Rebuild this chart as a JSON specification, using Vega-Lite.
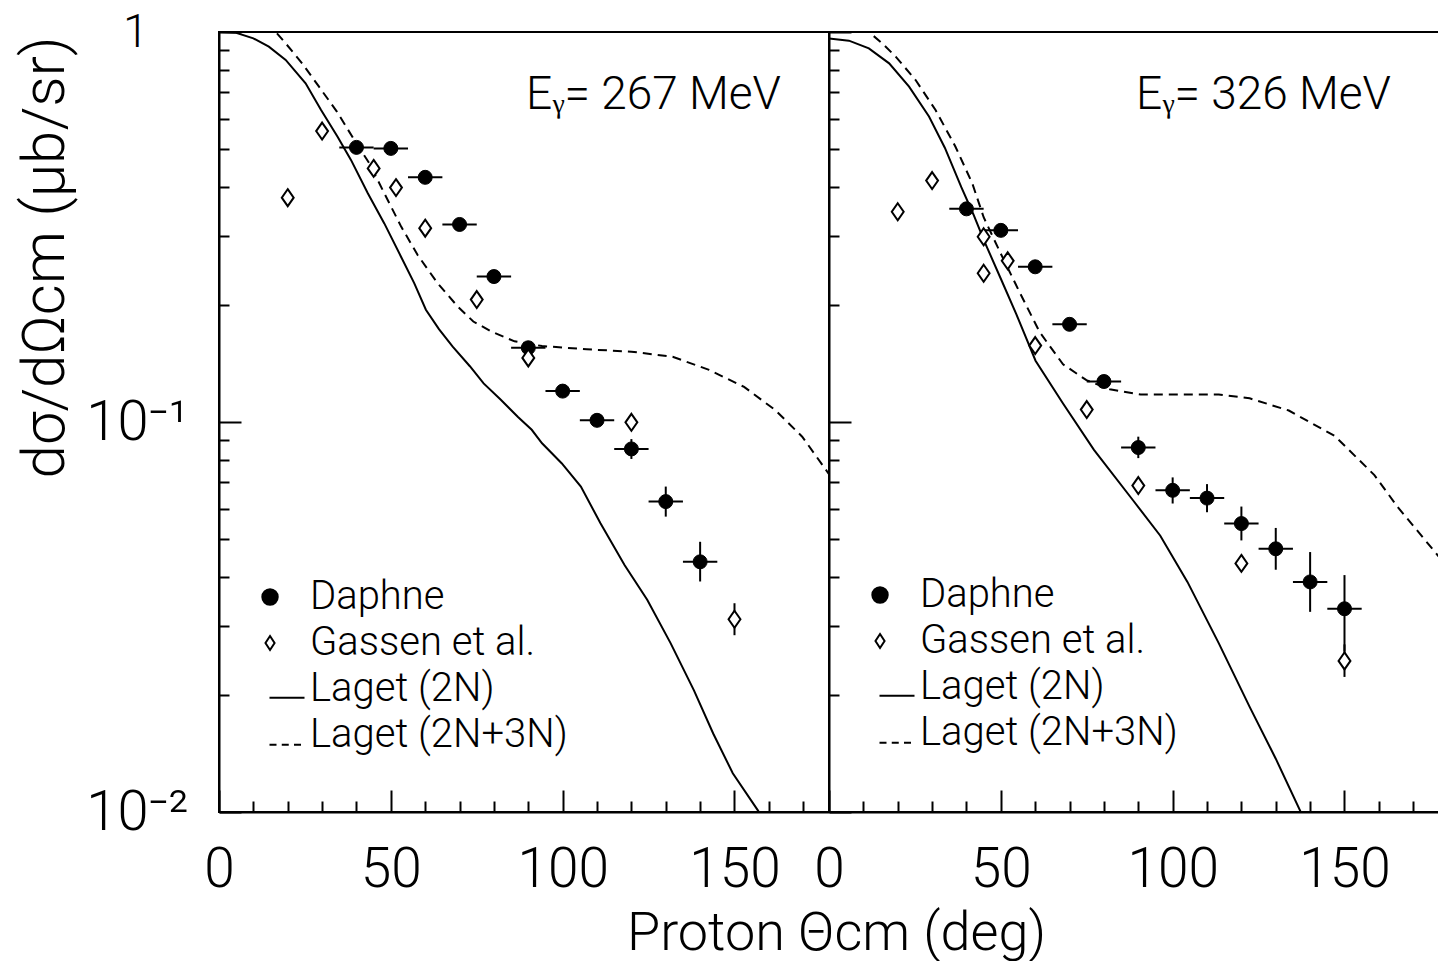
{
  "$schema": "https://vega.github.io/schema/vega-lite/v6.json",
  "background": "white",
  "padding": {"left": 13, "top": 8, "right": 0, "bottom": 0},
  "spacing": 0,
  "bounds": "flush",
  "config": {
    "font": "Roboto",
    "view": {"stroke": "black", "strokeWidth": 2},
    "axis": {"grid": false, "domainColor": "black", "domainWidth": 2, "tickColor": "black", "tickWidth": 2, "labelColor": "black", "titleColor": "black", "labelFont": "Roboto", "titleFont": "Roboto", "labelFontWeight": 300, "titleFontWeight": 300, "labelFlush": false, "labelOverlap": false, "tickCount": 100},
    "legend": {"labelFont": "Roboto", "labelFontWeight": 300, "labelColor": "black"}
  },
  "resolve": {"scale": {"shape": "independent", "fill": "independent", "stroke": "independent"}},
  "datasets": {
    "points": [
      {"panel": "L", "series": "Daphne", "theta": 40, "value": 0.506, "xlo": 35, "xhi": 45},
      {"panel": "L", "series": "Daphne", "theta": 50, "value": 0.503, "xlo": 45, "xhi": 55},
      {"panel": "L", "series": "Daphne", "theta": 60, "value": 0.424, "xlo": 55, "xhi": 65},
      {"panel": "L", "series": "Daphne", "theta": 70, "value": 0.321, "xlo": 65, "xhi": 75},
      {"panel": "L", "series": "Daphne", "theta": 80, "value": 0.236, "xlo": 75, "xhi": 85},
      {"panel": "L", "series": "Daphne", "theta": 90, "value": 0.155, "xlo": 85, "xhi": 95},
      {"panel": "L", "series": "Daphne", "theta": 100, "value": 0.120, "xlo": 95, "xhi": 105},
      {"panel": "L", "series": "Daphne", "theta": 110, "value": 0.101, "xlo": 105, "xhi": 115},
      {"panel": "L", "series": "Daphne", "theta": 120, "value": 0.0853, "xlo": 115, "xhi": 125, "ylo": 0.0804, "yhi": 0.0904},
      {"panel": "L", "series": "Daphne", "theta": 130, "value": 0.0625, "xlo": 125, "xhi": 135, "ylo": 0.0572, "yhi": 0.0683},
      {"panel": "L", "series": "Daphne", "theta": 140, "value": 0.0438, "xlo": 135, "xhi": 145, "ylo": 0.0390, "yhi": 0.0493},
      {"panel": "L", "series": "Gassen et al.", "theta": 20, "value": 0.376},
      {"panel": "L", "series": "Gassen et al.", "theta": 30, "value": 0.557},
      {"panel": "L", "series": "Gassen et al.", "theta": 45, "value": 0.447},
      {"panel": "L", "series": "Gassen et al.", "theta": 51.5, "value": 0.399},
      {"panel": "L", "series": "Gassen et al.", "theta": 60, "value": 0.314},
      {"panel": "L", "series": "Gassen et al.", "theta": 75, "value": 0.206},
      {"panel": "L", "series": "Gassen et al.", "theta": 90, "value": 0.146},
      {"panel": "L", "series": "Gassen et al.", "theta": 120, "value": 0.0998},
      {"panel": "L", "series": "Gassen et al.", "theta": 150, "value": 0.0312, "ylo": 0.0284, "yhi": 0.0343},
      {"panel": "R", "series": "Daphne", "theta": 40, "value": 0.352, "xlo": 35, "xhi": 45},
      {"panel": "R", "series": "Daphne", "theta": 50, "value": 0.310, "xlo": 45, "xhi": 55},
      {"panel": "R", "series": "Daphne", "theta": 60, "value": 0.250, "xlo": 55, "xhi": 65},
      {"panel": "R", "series": "Daphne", "theta": 70, "value": 0.178, "xlo": 65, "xhi": 75},
      {"panel": "R", "series": "Daphne", "theta": 80, "value": 0.127, "xlo": 75, "xhi": 85},
      {"panel": "R", "series": "Daphne", "theta": 90, "value": 0.0860, "xlo": 85, "xhi": 95, "ylo": 0.0808, "yhi": 0.0917},
      {"panel": "R", "series": "Daphne", "theta": 100, "value": 0.0668, "xlo": 95, "xhi": 105, "ylo": 0.0618, "yhi": 0.0721},
      {"panel": "R", "series": "Daphne", "theta": 110, "value": 0.0638, "xlo": 105, "xhi": 115, "ylo": 0.0587, "yhi": 0.0693},
      {"panel": "R", "series": "Daphne", "theta": 120, "value": 0.0549, "xlo": 115, "xhi": 125, "ylo": 0.0497, "yhi": 0.0607},
      {"panel": "R", "series": "Daphne", "theta": 130, "value": 0.0473, "xlo": 125, "xhi": 135, "ylo": 0.0418, "yhi": 0.0535},
      {"panel": "R", "series": "Daphne", "theta": 140, "value": 0.0389, "xlo": 135, "xhi": 145, "ylo": 0.0326, "yhi": 0.0464},
      {"panel": "R", "series": "Daphne", "theta": 150, "value": 0.0332, "xlo": 145, "xhi": 155, "ylo": 0.0258, "yhi": 0.0405},
      {"panel": "R", "series": "Gassen et al.", "theta": 20, "value": 0.346},
      {"panel": "R", "series": "Gassen et al.", "theta": 30, "value": 0.416},
      {"panel": "R", "series": "Gassen et al.", "theta": 45, "value": 0.2985},
      {"panel": "R", "series": "Gassen et al.", "theta": 45, "value": 0.2407},
      {"panel": "R", "series": "Gassen et al.", "theta": 52, "value": 0.259},
      {"panel": "R", "series": "Gassen et al.", "theta": 60, "value": 0.157},
      {"panel": "R", "series": "Gassen et al.", "theta": 75, "value": 0.1076},
      {"panel": "R", "series": "Gassen et al.", "theta": 90, "value": 0.0687},
      {"panel": "R", "series": "Gassen et al.", "theta": 120, "value": 0.0434},
      {"panel": "R", "series": "Gassen et al.", "theta": 150, "value": 0.0244, "ylo": 0.0222, "yhi": 0.0269}
    ],
    "curves": [
      {"panel": "L", "series": "Laget (2N)", "theta": 0, "value": 1.0},
      {"panel": "L", "series": "Laget (2N)", "theta": 5, "value": 0.995},
      {"panel": "L", "series": "Laget (2N)", "theta": 10, "value": 0.963},
      {"panel": "L", "series": "Laget (2N)", "theta": 14.5, "value": 0.917},
      {"panel": "L", "series": "Laget (2N)", "theta": 19.4, "value": 0.848},
      {"panel": "L", "series": "Laget (2N)", "theta": 25.2, "value": 0.739},
      {"panel": "L", "series": "Laget (2N)", "theta": 29.7, "value": 0.631},
      {"panel": "L", "series": "Laget (2N)", "theta": 34.5, "value": 0.539},
      {"panel": "L", "series": "Laget (2N)", "theta": 38.4, "value": 0.47},
      {"panel": "L", "series": "Laget (2N)", "theta": 43.3, "value": 0.386},
      {"panel": "L", "series": "Laget (2N)", "theta": 48.1, "value": 0.323},
      {"panel": "L", "series": "Laget (2N)", "theta": 53, "value": 0.265},
      {"panel": "L", "series": "Laget (2N)", "theta": 56.8, "value": 0.227},
      {"panel": "L", "series": "Laget (2N)", "theta": 60.2, "value": 0.194},
      {"panel": "L", "series": "Laget (2N)", "theta": 64, "value": 0.173},
      {"panel": "L", "series": "Laget (2N)", "theta": 68, "value": 0.156},
      {"panel": "L", "series": "Laget (2N)", "theta": 73, "value": 0.139},
      {"panel": "L", "series": "Laget (2N)", "theta": 77, "value": 0.1256},
      {"panel": "L", "series": "Laget (2N)", "theta": 82, "value": 0.114},
      {"panel": "L", "series": "Laget (2N)", "theta": 87, "value": 0.103},
      {"panel": "L", "series": "Laget (2N)", "theta": 91, "value": 0.0955},
      {"panel": "L", "series": "Laget (2N)", "theta": 94, "value": 0.0882},
      {"panel": "L", "series": "Laget (2N)", "theta": 99.7, "value": 0.0784},
      {"panel": "L", "series": "Laget (2N)", "theta": 105.3, "value": 0.0683},
      {"panel": "L", "series": "Laget (2N)", "theta": 111, "value": 0.055},
      {"panel": "L", "series": "Laget (2N)", "theta": 118, "value": 0.043},
      {"panel": "L", "series": "Laget (2N)", "theta": 124.6, "value": 0.035},
      {"panel": "L", "series": "Laget (2N)", "theta": 131.4, "value": 0.0271},
      {"panel": "L", "series": "Laget (2N)", "theta": 138.2, "value": 0.0205},
      {"panel": "L", "series": "Laget (2N)", "theta": 143.8, "value": 0.0159},
      {"panel": "L", "series": "Laget (2N)", "theta": 149.5, "value": 0.01257},
      {"panel": "L", "series": "Laget (2N)", "theta": 156.8, "value": 0.0101},
      {"panel": "L", "series": "Laget (2N)", "theta": 158, "value": 0.0097},
      {"panel": "L", "series": "Laget (2N+3N)", "theta": 14, "value": 1.06},
      {"panel": "L", "series": "Laget (2N+3N)", "theta": 16.5, "value": 1.0},
      {"panel": "L", "series": "Laget (2N+3N)", "theta": 19.4, "value": 0.935},
      {"panel": "L", "series": "Laget (2N+3N)", "theta": 24.2, "value": 0.831},
      {"panel": "L", "series": "Laget (2N+3N)", "theta": 29.1, "value": 0.724},
      {"panel": "L", "series": "Laget (2N+3N)", "theta": 34.3, "value": 0.625},
      {"panel": "L", "series": "Laget (2N+3N)", "theta": 39.4, "value": 0.528},
      {"panel": "L", "series": "Laget (2N+3N)", "theta": 43.7, "value": 0.461},
      {"panel": "L", "series": "Laget (2N+3N)", "theta": 48.1, "value": 0.386},
      {"panel": "L", "series": "Laget (2N+3N)", "theta": 53, "value": 0.317},
      {"panel": "L", "series": "Laget (2N+3N)", "theta": 57.8, "value": 0.268},
      {"panel": "L", "series": "Laget (2N+3N)", "theta": 63.6, "value": 0.227},
      {"panel": "L", "series": "Laget (2N+3N)", "theta": 69.4, "value": 0.198},
      {"panel": "L", "series": "Laget (2N+3N)", "theta": 74, "value": 0.181},
      {"panel": "L", "series": "Laget (2N+3N)", "theta": 79.3, "value": 0.1705},
      {"panel": "L", "series": "Laget (2N+3N)", "theta": 86, "value": 0.161},
      {"panel": "L", "series": "Laget (2N+3N)", "theta": 94, "value": 0.1566},
      {"panel": "L", "series": "Laget (2N+3N)", "theta": 107, "value": 0.1536},
      {"panel": "L", "series": "Laget (2N+3N)", "theta": 120, "value": 0.1515},
      {"panel": "L", "series": "Laget (2N+3N)", "theta": 132, "value": 0.147},
      {"panel": "L", "series": "Laget (2N+3N)", "theta": 142.6, "value": 0.136},
      {"panel": "L", "series": "Laget (2N+3N)", "theta": 152.8, "value": 0.123},
      {"panel": "L", "series": "Laget (2N+3N)", "theta": 161.8, "value": 0.1074},
      {"panel": "L", "series": "Laget (2N+3N)", "theta": 169.7, "value": 0.0917},
      {"panel": "L", "series": "Laget (2N+3N)", "theta": 177.5, "value": 0.0735},
      {"panel": "R", "series": "Laget (2N)", "theta": 0, "value": 0.963},
      {"panel": "R", "series": "Laget (2N)", "theta": 5.8, "value": 0.95},
      {"panel": "R", "series": "Laget (2N)", "theta": 11.6, "value": 0.908},
      {"panel": "R", "series": "Laget (2N)", "theta": 17.5, "value": 0.831},
      {"panel": "R", "series": "Laget (2N)", "theta": 23.3, "value": 0.724},
      {"panel": "R", "series": "Laget (2N)", "theta": 29.1, "value": 0.607},
      {"panel": "R", "series": "Laget (2N)", "theta": 33.7, "value": 0.505},
      {"panel": "R", "series": "Laget (2N)", "theta": 38.5, "value": 0.40},
      {"panel": "R", "series": "Laget (2N)", "theta": 42, "value": 0.341},
      {"panel": "R", "series": "Laget (2N)", "theta": 45.4, "value": 0.288},
      {"panel": "R", "series": "Laget (2N)", "theta": 50, "value": 0.233},
      {"panel": "R", "series": "Laget (2N)", "theta": 54.5, "value": 0.189},
      {"panel": "R", "series": "Laget (2N)", "theta": 60.1, "value": 0.1436},
      {"panel": "R", "series": "Laget (2N)", "theta": 68.1, "value": 0.1115},
      {"panel": "R", "series": "Laget (2N)", "theta": 77.1, "value": 0.0848},
      {"panel": "R", "series": "Laget (2N)", "theta": 88.4, "value": 0.0631},
      {"panel": "R", "series": "Laget (2N)", "theta": 96.4, "value": 0.0511},
      {"panel": "R", "series": "Laget (2N)", "theta": 104.3, "value": 0.0389},
      {"panel": "R", "series": "Laget (2N)", "theta": 113.4, "value": 0.0271},
      {"panel": "R", "series": "Laget (2N)", "theta": 122.4, "value": 0.0186},
      {"panel": "R", "series": "Laget (2N)", "theta": 130, "value": 0.0137},
      {"panel": "R", "series": "Laget (2N)", "theta": 137.5, "value": 0.0099},
      {"panel": "R", "series": "Laget (2N+3N)", "theta": 10, "value": 1.04},
      {"panel": "R", "series": "Laget (2N+3N)", "theta": 11.6, "value": 1.0},
      {"panel": "R", "series": "Laget (2N+3N)", "theta": 15.5, "value": 0.935},
      {"panel": "R", "series": "Laget (2N+3N)", "theta": 19.4, "value": 0.865},
      {"panel": "R", "series": "Laget (2N+3N)", "theta": 25.2, "value": 0.753},
      {"panel": "R", "series": "Laget (2N+3N)", "theta": 31, "value": 0.631},
      {"panel": "R", "series": "Laget (2N+3N)", "theta": 36.8, "value": 0.508},
      {"panel": "R", "series": "Laget (2N+3N)", "theta": 41.7, "value": 0.409},
      {"panel": "R", "series": "Laget (2N+3N)", "theta": 45, "value": 0.335},
      {"panel": "R", "series": "Laget (2N+3N)", "theta": 50, "value": 0.270},
      {"panel": "R", "series": "Laget (2N+3N)", "theta": 55.6, "value": 0.214},
      {"panel": "R", "series": "Laget (2N+3N)", "theta": 61.3, "value": 0.170},
      {"panel": "R", "series": "Laget (2N+3N)", "theta": 68.1, "value": 0.1406},
      {"panel": "R", "series": "Laget (2N+3N)", "theta": 74.9, "value": 0.128},
      {"panel": "R", "series": "Laget (2N+3N)", "theta": 81.7, "value": 0.1213},
      {"panel": "R", "series": "Laget (2N+3N)", "theta": 90.7, "value": 0.1176},
      {"panel": "R", "series": "Laget (2N+3N)", "theta": 102, "value": 0.1176},
      {"panel": "R", "series": "Laget (2N+3N)", "theta": 113.4, "value": 0.1176},
      {"panel": "R", "series": "Laget (2N+3N)", "theta": 122.4, "value": 0.115},
      {"panel": "R", "series": "Laget (2N+3N)", "theta": 133.8, "value": 0.107},
      {"panel": "R", "series": "Laget (2N+3N)", "theta": 147.1, "value": 0.0922},
      {"panel": "R", "series": "Laget (2N+3N)", "theta": 158.7, "value": 0.0731},
      {"panel": "R", "series": "Laget (2N+3N)", "theta": 165.5, "value": 0.0605},
      {"panel": "R", "series": "Laget (2N+3N)", "theta": 177.5, "value": 0.0451}
    ],
    "labels": [
      {"panel": "L", "theta": 163.5, "value": 0.689, "text": "Eᵧ= 267 MeV"},
      {"panel": "R", "theta": 163.5, "value": 0.689, "text": "Eᵧ= 326 MeV"}
    ]
  },
  "hconcat": [
    {
      "width": 610,
      "height": 780,
      "layer": [
        {
          "data": {"name": "curves"},
          "transform": [{"filter": "datum.panel == 'L' && datum.series == 'Laget (2N)'"}],
          "mark": {"type": "line", "color": "black", "strokeWidth": 2, "clip": true},
          "encoding": {
            "x": {"field": "theta", "type": "quantitative", "scale": {"domain": [0, 177.5], "nice": false, "zero": false},
              "axis": {"values": [0,10,20,30,40,50,60,70,80,90,100,110,120,130,140,150,160,170], "tickCount": 100,
                "labelExpr": "datum.value % 50 == 0 ? datum.label : ''",
                "tickSize": {"condition": {"test": "datum.value % 50 == 0", "value": -22}, "value": -11},
                "labelPadding": 53, "labelFontSize": 55, "labelBaseline": "top", "labelAlign": "center",
                "title": "Proton Θcm (deg)", "titleFontSize": 54, "titleX": 617, "titleY": 121,
                "titleAlign": "center", "titleBaseline": "middle", "titleAngle": 0}},
            "y": {"field": "value", "type": "quantitative", "scale": {"type": "log", "domain": [0.01, 1], "nice": false},
              "axis": {"values": [0.01,0.02,0.03,0.04,0.05,0.06,0.07,0.08,0.09,0.1,0.2,0.3,0.4,0.5,0.6,0.7,0.8,0.9,1], "tickCount": 100,
                "labelExpr": "datum.value == 1 ? '1' : datum.value == 0.1 ? '10⁻¹' : datum.value == 0.01 ? '10⁻²' : ''",
                "tickSize": {"condition": {"test": "datum.value == 1 || datum.value == 0.1 || datum.value == 0.01", "value": -22}, "value": -10},
                "labelPadding": {"condition": {"test": "datum.value == 1", "value": 93}, "value": 53},
                "labelFontSize": {"condition": {"test": "datum.value == 1", "value": 46}, "value": 56},
                "labelAlign": "right", "labelBaseline": "middle",
                "title": "dσ/dΩcm (μb/sr)", "titleFontSize": 60, "titleX": -174, "titleY": 225,
                "titleAngle": -90, "titleAlign": "center", "titleBaseline": "middle"}}
          }
        },
        {
          "data": {"name": "curves"},
          "transform": [{"filter": "datum.panel == 'L' && datum.series == 'Laget (2N+3N)'"}],
          "mark": {"type": "line", "color": "black", "strokeWidth": 2, "strokeDash": [9, 6], "clip": true},
          "encoding": {
            "x": {"field": "theta", "type": "quantitative"},
            "y": {"field": "value", "type": "quantitative"}
          }
        },
        {
          "data": {"name": "points"},
          "transform": [{"filter": "datum.panel == 'L' && datum.xlo != null"}],
          "mark": {"type": "rule", "color": "black", "strokeWidth": 2},
          "encoding": {
            "x": {"field": "xlo", "type": "quantitative"},
            "x2": {"field": "xhi"},
            "y": {"field": "value", "type": "quantitative"}
          }
        },
        {
          "data": {"name": "points"},
          "transform": [{"filter": "datum.panel == 'L' && datum.ylo != null"}],
          "mark": {"type": "rule", "color": "black", "strokeWidth": 2},
          "encoding": {
            "x": {"field": "theta", "type": "quantitative"},
            "y": {"field": "ylo", "type": "quantitative"},
            "y2": {"field": "yhi"}
          }
        },
        {
          "data": {"name": "points"},
          "transform": [{"filter": "datum.panel == 'L' && datum.series == 'Daphne'"}],
          "mark": {"type": "point", "shape": "circle", "filled": true, "fill": "black", "stroke": "black", "strokeWidth": 1, "size": 196, "opacity": 1},
          "encoding": {
            "x": {"field": "theta", "type": "quantitative"},
            "y": {"field": "value", "type": "quantitative"}
          }
        },
        {
          "data": {"name": "points"},
          "transform": [{"filter": "datum.panel == 'L' && datum.series == 'Gassen et al.'"}],
          "mark": {"type": "point", "shape": "M0,-1L0.7,0L0,1L-0.7,0Z", "filled": true, "fill": "white", "stroke": "black", "strokeWidth": 2, "size": 289, "opacity": 1},
          "encoding": {
            "x": {"field": "theta", "type": "quantitative"},
            "y": {"field": "value", "type": "quantitative"}
          }
        },
        {
          "data": {"name": "points"},
          "transform": [{"filter": "datum.panel == 'L'"}],
          "mark": {"type": "point", "filled": true, "opacity": 0, "strokeWidth": 2},
          "encoding": {
            "x": {"field": "theta", "type": "quantitative"},
            "y": {"field": "value", "type": "quantitative"},
            "shape": {"field": "series", "type": "nominal",
              "scale": {"domain": ["Daphne", "Gassen et al.", "Laget (2N)", "Laget (2N+3N)"],
                "range": ["M-1.41,0A0.44,0.44,0,1,1,-0.53,0A0.44,0.44,0,1,1,-1.41,0Z", "M-0.97,-0.4L-0.71,0L-0.97,0.4L-1.23,0Z", "M-1,0.5H1", "M-1,0.55H-0.6M-0.3,0.55H0.1M0.4,0.55H0.8"]},
              "legend": {"orient": "none", "legendX": 48, "legendY": 545, "title": null, "symbolSize": 1225, "symbolStrokeWidth": 2, "symbolOpacity": 1, "labelFontSize": 40, "labelOffset": 3, "rowPadding": 6, "padding": 0, "labelLimit": 500}},
            "fill": {"field": "series", "type": "nominal",
              "scale": {"domain": ["Daphne", "Gassen et al.", "Laget (2N)", "Laget (2N+3N)"], "range": ["black", "white", "transparent", "transparent"]},
              "legend": {"orient": "none", "legendX": 48, "legendY": 545, "title": null, "symbolSize": 1225, "symbolStrokeWidth": 2, "symbolOpacity": 1, "labelFontSize": 40, "labelOffset": 3, "rowPadding": 6, "padding": 0, "labelLimit": 500}},
            "stroke": {"field": "series", "type": "nominal",
              "scale": {"domain": ["Daphne", "Gassen et al.", "Laget (2N)", "Laget (2N+3N)"], "range": ["black", "black", "black", "black"]},
              "legend": {"orient": "none", "legendX": 48, "legendY": 545, "title": null, "symbolSize": 1225, "symbolStrokeWidth": 2, "symbolOpacity": 1, "labelFontSize": 40, "labelOffset": 3, "rowPadding": 6, "padding": 0, "labelLimit": 500}}
          }
        },
        {
          "data": {"name": "labels"},
          "transform": [{"filter": "datum.panel == 'L'"}],
          "mark": {"type": "text", "align": "right", "baseline": "middle", "fontSize": 46, "fontWeight": 300, "color": "black"},
          "encoding": {
            "x": {"field": "theta", "type": "quantitative"},
            "y": {"field": "value", "type": "quantitative"},
            "text": {"field": "text"}
          }
        }
      ]
    },
    {
      "width": 610,
      "height": 780,
      "layer": [
        {
          "data": {"name": "curves"},
          "transform": [{"filter": "datum.panel == 'R' && datum.series == 'Laget (2N)'"}],
          "mark": {"type": "line", "color": "black", "strokeWidth": 2, "clip": true},
          "encoding": {
            "x": {"field": "theta", "type": "quantitative", "scale": {"domain": [0, 177.5], "nice": false, "zero": false},
              "axis": {"values": [0,10,20,30,40,50,60,70,80,90,100,110,120,130,140,150,160,170], "tickCount": 100,
                "labelExpr": "datum.value % 50 == 0 ? datum.label : ''",
                "tickSize": {"condition": {"test": "datum.value % 50 == 0", "value": -22}, "value": -11},
                "labelPadding": 53, "labelFontSize": 55, "labelBaseline": "top", "labelAlign": "center",
                "title": null}},
            "y": {"field": "value", "type": "quantitative", "scale": {"type": "log", "domain": [0.01, 1], "nice": false},
              "axis": {"values": [0.01,0.02,0.03,0.04,0.05,0.06,0.07,0.08,0.09,0.1,0.2,0.3,0.4,0.5,0.6,0.7,0.8,0.9,1], "tickCount": 100,
                "labels": false,
                "tickSize": {"condition": {"test": "datum.value == 1 || datum.value == 0.1 || datum.value == 0.01", "value": -22}, "value": -10},
                "title": null}}
          }
        },
        {
          "data": {"name": "curves"},
          "transform": [{"filter": "datum.panel == 'R' && datum.series == 'Laget (2N+3N)'"}],
          "mark": {"type": "line", "color": "black", "strokeWidth": 2, "strokeDash": [9, 6], "clip": true},
          "encoding": {
            "x": {"field": "theta", "type": "quantitative"},
            "y": {"field": "value", "type": "quantitative"}
          }
        },
        {
          "data": {"name": "points"},
          "transform": [{"filter": "datum.panel == 'R' && datum.xlo != null"}],
          "mark": {"type": "rule", "color": "black", "strokeWidth": 2},
          "encoding": {
            "x": {"field": "xlo", "type": "quantitative"},
            "x2": {"field": "xhi"},
            "y": {"field": "value", "type": "quantitative"}
          }
        },
        {
          "data": {"name": "points"},
          "transform": [{"filter": "datum.panel == 'R' && datum.ylo != null"}],
          "mark": {"type": "rule", "color": "black", "strokeWidth": 2},
          "encoding": {
            "x": {"field": "theta", "type": "quantitative"},
            "y": {"field": "ylo", "type": "quantitative"},
            "y2": {"field": "yhi"}
          }
        },
        {
          "data": {"name": "points"},
          "transform": [{"filter": "datum.panel == 'R' && datum.series == 'Daphne'"}],
          "mark": {"type": "point", "shape": "circle", "filled": true, "fill": "black", "stroke": "black", "strokeWidth": 1, "size": 196, "opacity": 1},
          "encoding": {
            "x": {"field": "theta", "type": "quantitative"},
            "y": {"field": "value", "type": "quantitative"}
          }
        },
        {
          "data": {"name": "points"},
          "transform": [{"filter": "datum.panel == 'R' && datum.series == 'Gassen et al.'"}],
          "mark": {"type": "point", "shape": "M0,-1L0.7,0L0,1L-0.7,0Z", "filled": true, "fill": "white", "stroke": "black", "strokeWidth": 2, "size": 289, "opacity": 1},
          "encoding": {
            "x": {"field": "theta", "type": "quantitative"},
            "y": {"field": "value", "type": "quantitative"}
          }
        },
        {
          "data": {"name": "points"},
          "transform": [{"filter": "datum.panel == 'R'"}],
          "mark": {"type": "point", "filled": true, "opacity": 0, "strokeWidth": 2},
          "encoding": {
            "x": {"field": "theta", "type": "quantitative"},
            "y": {"field": "value", "type": "quantitative"},
            "shape": {"field": "series", "type": "nominal",
              "scale": {"domain": ["Daphne", "Gassen et al.", "Laget (2N)", "Laget (2N+3N)"],
                "range": ["M-1.41,0A0.44,0.44,0,1,1,-0.53,0A0.44,0.44,0,1,1,-1.41,0Z", "M-0.97,-0.4L-0.71,0L-0.97,0.4L-1.23,0Z", "M-1,0.5H1", "M-1,0.55H-0.6M-0.3,0.55H0.1M0.4,0.55H0.8"]},
              "legend": {"orient": "none", "legendX": 48, "legendY": 543, "title": null, "symbolSize": 1225, "symbolStrokeWidth": 2, "symbolOpacity": 1, "labelFontSize": 40, "labelOffset": 3, "rowPadding": 6, "padding": 0, "labelLimit": 500}},
            "fill": {"field": "series", "type": "nominal",
              "scale": {"domain": ["Daphne", "Gassen et al.", "Laget (2N)", "Laget (2N+3N)"], "range": ["black", "white", "transparent", "transparent"]},
              "legend": {"orient": "none", "legendX": 48, "legendY": 543, "title": null, "symbolSize": 1225, "symbolStrokeWidth": 2, "symbolOpacity": 1, "labelFontSize": 40, "labelOffset": 3, "rowPadding": 6, "padding": 0, "labelLimit": 500}},
            "stroke": {"field": "series", "type": "nominal",
              "scale": {"domain": ["Daphne", "Gassen et al.", "Laget (2N)", "Laget (2N+3N)"], "range": ["black", "black", "black", "black"]},
              "legend": {"orient": "none", "legendX": 48, "legendY": 543, "title": null, "symbolSize": 1225, "symbolStrokeWidth": 2, "symbolOpacity": 1, "labelFontSize": 40, "labelOffset": 3, "rowPadding": 6, "padding": 0, "labelLimit": 500}}
          }
        },
        {
          "data": {"name": "labels"},
          "transform": [{"filter": "datum.panel == 'R'"}],
          "mark": {"type": "text", "align": "right", "baseline": "middle", "fontSize": 46, "fontWeight": 300, "color": "black"},
          "encoding": {
            "x": {"field": "theta", "type": "quantitative"},
            "y": {"field": "value", "type": "quantitative"},
            "text": {"field": "text"}
          }
        }
      ]
    }
  ]
}
